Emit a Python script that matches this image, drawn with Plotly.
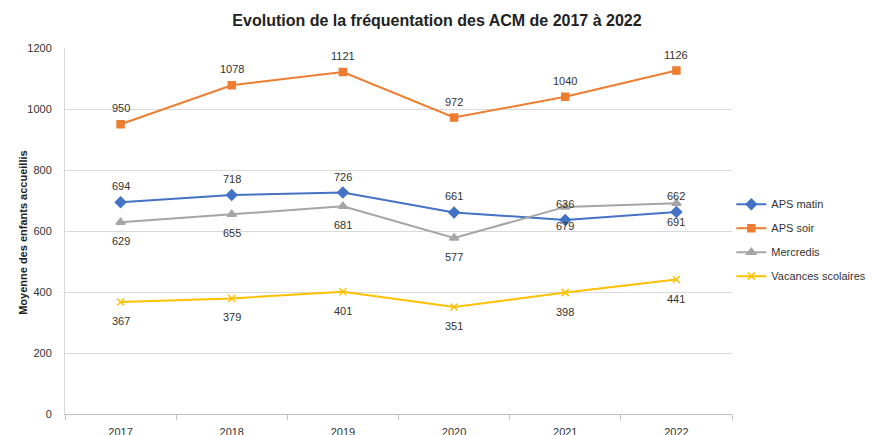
import plotly.graph_objects as go

years = ["2017", "2018", "2019", "2020", "2021", "2022"]
aps_matin = [694, 718, 726, 661, 636, 662]
aps_soir = [950, 1078, 1121, 972, 1040, 1126]
mercredis = [629, 655, 681, 577, 679, 691]
vacances = [367, 379, 401, 351, 398, 441]

FONT = "Liberation Sans"
TXT = "#333333"

# name, values, colour, marker, marker size, label offset (px)
series = [
    ("APS matin", aps_matin, "#4472C4", "diamond", 8, 16),
    ("APS soir", aps_soir, "#ED7D31", "square", 7, 16),
    ("Mercredis", mercredis, "#A5A5A5", "triangle-up", 8, -19),
    ("Vacances scolaires", vacances, "#FFC000", "x-thin", 7, -19),
]

fig = go.Figure()
for name, vals, color, sym, size, shift in series:
    fig.add_trace(go.Scatter(
        x=years, y=vals, name=name, legendgroup=name,
        mode="lines+markers",
        line=dict(color=color, width=2),
        marker=dict(symbol=sym, size=size, color=color,
                    line=dict(color=color, width=1.5)),
    ))
    # data labels: category index on x, value on y
    for i, v in enumerate(vals):
        fig.add_annotation(x=i, y=v, text=str(v), showarrow=False,
                           yshift=shift,
                           font=dict(size=11, color=TXT, family=FONT))

# page body has an 8px margin, so the figure is offset by 8px
fig.update_layout(
    width=873, height=427,
    margin=dict(l=57, r=149, t=40, b=21, autoexpand=False),
    paper_bgcolor="white", plot_bgcolor="white",
    font=dict(family=FONT, size=11, color=TXT),
    title=dict(text="<b>Evolution de la fréquentation des ACM de 2017 à 2022</b>",
               x=429 / 873, xanchor="center", y=1 - 12 / 427,
               yanchor="middle",
               font=dict(size=16, color="#222222", family=FONT)),
    legend=dict(x=0.999, xanchor="left", y=0.475, yanchor="middle",
                font=dict(size=11, color=TXT), tracegroupgap=5,
                bgcolor="rgba(0,0,0,0)"),
    showlegend=True,
)

fig.update_xaxes(
    type="category", range=[-0.5, 5.5], tickson="boundaries",
    ticks="outside", ticklen=5, tickcolor="#BFBFBF",
    showline=True, linecolor="#BFBFBF", linewidth=1,
    showgrid=False, ticklabelstandoff=8,
    tickfont=dict(size=11, color=TXT), automargin=False,
)
fig.update_yaxes(
    range=[0, 1200], dtick=200, ticks="", showline=True, linecolor="#D9D9D9",
    gridcolor="#D9D9D9", gridwidth=1, zeroline=False, ticklabelstandoff=10,
    tickfont=dict(size=11, color=TXT), automargin=False,
)

fig.add_annotation(
    text="<b>Moyenne des enfants accueillis</b>", textangle=-90,
    xref="paper", yref="paper", x=(7 - 57) / 667, y=0.495, showarrow=False,
    font=dict(size=11, color="#222222", family=FONT),
)

fig.write_html("out.html")
